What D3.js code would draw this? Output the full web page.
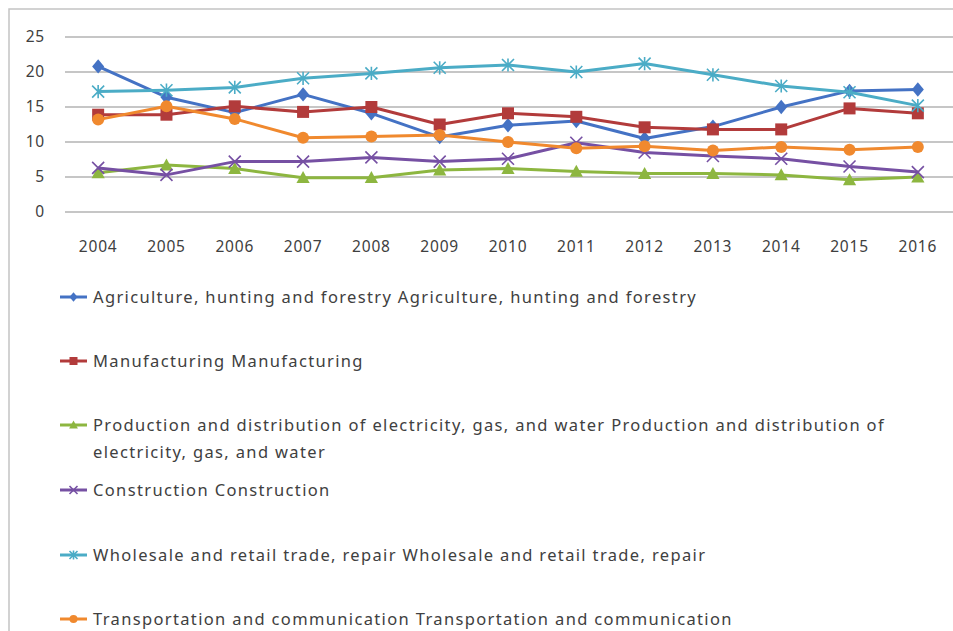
<!DOCTYPE html>
<html>
<head>
<meta charset="utf-8">
<script src="https://cdn.jsdelivr.net/npm/d3@7"></script>
<style>
  body { margin: 0; background: #fff; }
  svg { display: block; font-family: "Noto Sans", "Open Sans", sans-serif; }
</style>
</head>
<body>
<div id="chart"></div>
<script>
// years on the x axis
const years = ["2004", "2005", "2006", "2007", "2008", "2009", "2010", "2011", "2012", "2013", "2014", "2015", "2016"];
const yTicks = [0, 5, 10, 15, 20, 25];

// series values
const agriculture = [20.8, 16.4, 14.2, 16.8, 14.1, 10.7, 12.4, 13.0, 10.5, 12.2, 15.0, 17.3, 17.5];
const manufacturing = [13.9, 13.9, 15.1, 14.3, 15.0, 12.5, 14.1, 13.6, 12.1, 11.8, 11.8, 14.8, 14.1];
const electricity = [5.6, 6.7, 6.2, 4.9, 4.9, 6.0, 6.2, 5.8, 5.5, 5.5, 5.3, 4.6, 5.0];
const construction = [6.3, 5.3, 7.2, 7.2, 7.8, 7.2, 7.6, 9.9, 8.5, 8.0, 7.6, 6.5, 5.7];
const wholesale = [17.2, 17.4, 17.8, 19.1, 19.8, 20.6, 21.0, 20.0, 21.2, 19.6, 18.0, 17.1, 15.2];
const transport = [13.2, 15.1, 13.3, 10.6, 10.8, 11.0, 10.0, 9.1, 9.4, 8.8, 9.3, 8.9, 9.3];

const seriesNames = [
  "Agriculture, hunting and forestry Agriculture, hunting and forestry",
  "Manufacturing Manufacturing",
  "Production and distribution of electricity, gas, and water Production and distribution of electricity, gas, and water",
  "Construction Construction",
  "Wholesale and retail trade, repair Wholesale and retail trade, repair",
  "Transportation and communication Transportation and communication"
];
const seriesValues = [agriculture, manufacturing, electricity, construction, wholesale, transport];
const seriesColors = ["#4472C4", "#B23B3B", "#8DB640", "#7650A3", "#4BACC6", "#F0892E"];
const seriesSymbols = ["diamond", "square", "triangle", "cross", "star", "circle"];

const W = 953, H = 631;
const svg = d3.select("#chart").append("svg").attr("width", W).attr("height", H);

// outer frame (left and top edges visible, rest cropped)
svg.append("path")
  .attr("d", `M9,${H} V9 H${W}`)
  .attr("fill", "none").attr("stroke", "#c4c4c4").attr("stroke-width", 1.5);

const x = d3.scalePoint().domain(years).range([64, 952]).padding(0.5);
const y = d3.scaleLinear().domain([0, 25]).range([212, 37]);

// gridlines
svg.append("g").selectAll("line").data(yTicks).join("line")
  .attr("x1", 65).attr("x2", W)
  .attr("y1", d => y(d)).attr("y2", d => y(d))
  .attr("stroke", "#b3b3b3").attr("stroke-width", 1.5);

// y tick labels
svg.append("g").selectAll("text").data(yTicks).join("text")
  .attr("x", 45).attr("y", d => y(d)).attr("dy", "0.35em")
  .attr("text-anchor", "end")
  .attr("font-size", 15.5).attr("letter-spacing", 0.8).attr("fill", "#404040")
  .text(d => d);

// x tick labels
svg.append("g").selectAll("text").data(years).join("text")
  .attr("x", d => x(d)).attr("y", 247).attr("dy", "0.35em")
  .attr("text-anchor", "middle")
  .attr("font-size", 15.5).attr("letter-spacing", 0.8).attr("fill", "#404040")
  .text(d => d);

// marker drawing
function drawMarker(g, sym, color, s) {
  if (sym === "diamond") {
    g.append("path").attr("d", `M0,${-s * 0.6} L${s * 0.5},0 L0,${s * 0.6} L${-s * 0.5},0Z`).attr("fill", color);
  } else if (sym === "square") {
    g.append("rect").attr("x", -s / 2).attr("y", -s / 2).attr("width", s).attr("height", s).attr("fill", color);
  } else if (sym === "triangle") {
    g.append("path").attr("d", `M0,${-s * 0.55} L${s * 0.55},${s * 0.45} L${-s * 0.55},${s * 0.45}Z`).attr("fill", color);
  } else if (sym === "circle") {
    g.append("circle").attr("r", s / 2).attr("fill", color);
  } else if (sym === "cross") {
    const r = s / 2;
    g.append("path").attr("d", `M${-r},${-r} L${r},${r} M${-r},${r} L${r},${-r}`)
      .attr("stroke", color).attr("stroke-width", 1.6);
  } else if (sym === "star") {
    const r = s / 2;
    g.append("path").attr("d", `M${-r},${-r} L${r},${r} M${-r},${r} L${r},${-r} M0,${-r * 1.1} V${r * 1.1}`)
      .attr("stroke", color).attr("stroke-width", 1.6);
  }
}

const line = d3.line().x((d, i) => x(years[i])).y(d => y(d));

seriesValues.forEach((vals, k) => {
  const color = seriesColors[k];
  const g = svg.append("g");
  g.append("path").datum(vals).attr("d", line)
    .attr("fill", "none").attr("stroke", color).attr("stroke-width", 3)
    .attr("stroke-linejoin", "round");
  vals.forEach((v, i) => {
    const m = g.append("g").attr("transform", `translate(${x(years[i])},${y(v)})`);
    drawMarker(m, seriesSymbols[k], color, 12);
  });
});

// legend
const legendY = [297, 361, 425, 490, 555, 619];
const maxTextW = 812;
seriesNames.forEach((name, k) => {
  const color = seriesColors[k];
  const g = svg.append("g").attr("transform", `translate(0,${legendY[k]})`);
  g.append("line").attr("x1", 60).attr("x2", 87).attr("y1", 0).attr("y2", 0)
    .attr("stroke", color).attr("stroke-width", 3);
  const m = g.append("g").attr("transform", "translate(73.5,0)");
  drawMarker(m, seriesSymbols[k], color, 8);

  const t = g.append("text").attr("x", 93).attr("y", 0).attr("dy", "0.35em")
    .attr("font-size", 16.5).attr("fill", "#404040").attr("letter-spacing", 1.35);
  // simple word wrap
  const words = name.split(" ");
  let lineWords = [];
  let tspan = t.append("tspan").attr("x", 93);
  words.forEach(w => {
    lineWords.push(w);
    tspan.text(lineWords.join(" "));
    if (tspan.node().getComputedTextLength() > maxTextW && lineWords.length > 1) {
      lineWords.pop();
      tspan.text(lineWords.join(" "));
      lineWords = [w];
      tspan = t.append("tspan").attr("x", 93).attr("dy", 27).text(w);
    }
  });
});
</script>
</body>
</html>
